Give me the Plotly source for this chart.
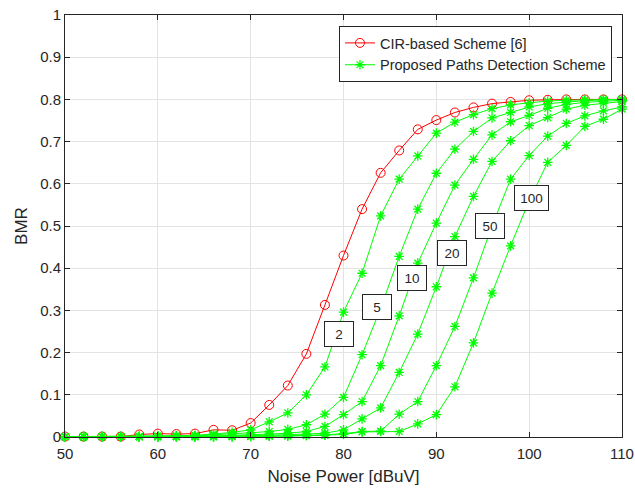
import plotly.graph_objects as go

noise_power = list(range(50, 111, 2))

cir_bmr = [0.001, 0.001, 0.001, 0.001, 0.006, 0.008, 0.007, 0.008, 0.017, 0.016,
           0.033, 0.076, 0.122, 0.197, 0.313, 0.430, 0.540, 0.626, 0.679, 0.729,
           0.751, 0.769, 0.781, 0.790, 0.794, 0.798, 0.799, 0.800, 0.800, 0.800, 0.800]

prop_2 = [0.001, 0.001, 0.001, 0.001, 0.001, 0.002, 0.003, 0.004, 0.007, 0.011,
          0.017, 0.036, 0.057, 0.100, 0.166, 0.296, 0.388, 0.524, 0.611, 0.666,
          0.720, 0.746, 0.764, 0.778, 0.787, 0.792, 0.796, 0.798, 0.799, 0.800, 0.800]

prop_5 = [0.001, 0.001, 0.001, 0.001, 0.001, 0.001, 0.002, 0.003, 0.005, 0.007,
          0.010, 0.013, 0.018, 0.029, 0.054, 0.094, 0.195, 0.305, 0.428, 0.540,
          0.625, 0.682, 0.724, 0.756, 0.769, 0.782, 0.790, 0.794, 0.797, 0.799, 0.800]

prop_10 = [0.001, 0.001, 0.001, 0.001, 0.001, 0.001, 0.001, 0.001, 0.002, 0.004,
           0.005, 0.007, 0.009, 0.013, 0.025, 0.053, 0.084, 0.169, 0.287, 0.412,
           0.507, 0.597, 0.658, 0.716, 0.747, 0.762, 0.779, 0.788, 0.793, 0.796, 0.798]

prop_20 = [0.001, 0.001, 0.001, 0.001, 0.001, 0.001, 0.001, 0.001, 0.001, 0.002,
           0.003, 0.004, 0.005, 0.007, 0.009, 0.017, 0.043, 0.069, 0.153, 0.244,
           0.356, 0.475, 0.570, 0.653, 0.702, 0.738, 0.757, 0.777, 0.786, 0.791, 0.795]

prop_50 = [0.001, 0.001, 0.001, 0.001, 0.001, 0.001, 0.001, 0.001, 0.001, 0.001,
           0.002, 0.002, 0.003, 0.004, 0.005, 0.008, 0.013, 0.014, 0.054, 0.084,
           0.169, 0.262, 0.377, 0.500, 0.611, 0.667, 0.713, 0.743, 0.761, 0.773, 0.782]

prop_100 = [0.001, 0.001, 0.001, 0.001, 0.001, 0.001, 0.001, 0.001, 0.001, 0.001,
            0.001, 0.002, 0.002, 0.003, 0.004, 0.006, 0.012, 0.013, 0.013, 0.031,
            0.053, 0.119, 0.223, 0.341, 0.453, 0.560, 0.651, 0.691, 0.736, 0.753, 0.777]

proposed_series = [prop_2, prop_5, prop_10, prop_20, prop_50, prop_100]

label_texts = ["2", "5", "10", "20", "50", "100"]
label_x = [79.5, 83.6, 87.4, 91.7, 95.75, 100.3]
label_y = [0.245, 0.307, 0.376, 0.437, 0.500, 0.566]

x_ticks = [50, 60, 70, 80, 90, 100, 110]
y_ticks = [0, 0.1, 0.2, 0.3, 0.4, 0.5, 0.6, 0.7, 0.8, 0.9, 1]
y_tick_text = ["0", "0.1", "0.2", "0.3", "0.4", "0.5", "0.6", "0.7", "0.8", "0.9", "1"]

FONT = "Liberation Sans, Arial, Helvetica, sans-serif"
AX = "#262626"
GREEN = "#00ff00"
RED = "#ff0000"

fig = go.Figure()

fig.add_trace(go.Scatter(
    x=noise_power, y=cir_bmr, mode="lines+markers",
    name="CIR-based Scheme [6]",
    line=dict(color=RED, width=1),
    marker=dict(symbol="circle-open", size=9, color=RED, line=dict(width=1, color=RED)),
    cliponaxis=False,
))

for i, series in enumerate(proposed_series):
    fig.add_trace(go.Scatter(
        x=noise_power, y=series, mode="lines+markers",
        name="Proposed Paths Detection Scheme",
        showlegend=(i == 0),
        line=dict(color=GREEN, width=1),
        marker=dict(symbol="asterisk-open", size=8, color=GREEN, line=dict(width=1.3, color=GREEN)),
        cliponaxis=False,
    ))

for t, lx, ly in zip(label_texts, label_x, label_y):
    fig.add_annotation(
        x=lx, y=ly, xref="x", yref="y", text=t, showarrow=False,
        font=dict(family=FONT, size=13.5, color=AX),
        bgcolor="white", bordercolor=AX, borderwidth=1, borderpad=1,
        width=31 if len(t) == 3 else 26, height=22,
    )

fig.update_layout(
    width=635, height=489,
    margin=dict(l=65, r=13, t=15, b=52, autoexpand=False),
    paper_bgcolor="white", plot_bgcolor="white",
    font=dict(family=FONT, size=15, color=AX),
    showlegend=True,
    legend=dict(
        x=0.982, y=0.974, xanchor="right", yanchor="top",
        bgcolor="white", bordercolor=AX, borderwidth=1,
        font=dict(family=FONT, size=14.5, color=AX),
        tracegroupgap=0, itemwidth=30,
    ),
)

fig.update_xaxes(
    range=[50, 110], tickvals=x_ticks,
    showgrid=True, gridcolor="#e3e3e3", gridwidth=1,
    showline=True, linecolor=AX, linewidth=1, mirror="ticks",
    ticks="inside", ticklen=5, tickcolor=AX,
    tickfont=dict(family=FONT, size=15, color=AX),
    ticklabelstandoff=3,
    zeroline=False, automargin=False,
    title=dict(text="Noise Power [dBuV]", font=dict(family=FONT, size=17, color=AX), standoff=9),
)
fig.update_yaxes(
    range=[0, 1], tickvals=y_ticks, ticktext=y_tick_text,
    showgrid=True, gridcolor="#e3e3e3", gridwidth=1,
    showline=True, linecolor=AX, linewidth=1, mirror="ticks",
    ticks="inside", ticklen=5, tickcolor=AX,
    tickfont=dict(family=FONT, size=15, color=AX),
    zeroline=False, automargin=False,
    title=dict(text="BMR", font=dict(family=FONT, size=17, color=AX), standoff=8),
)

fig.write_html("out.html")
